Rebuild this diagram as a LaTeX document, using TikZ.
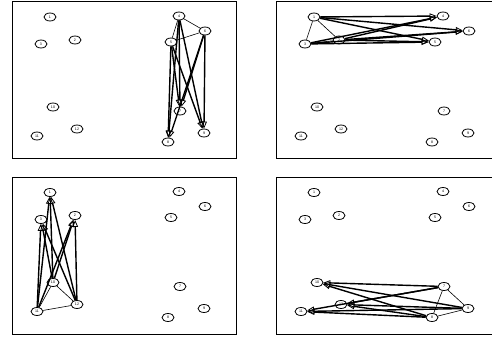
\documentclass[tikz,border=0pt]{standalone}
\usepackage{fontspec}
\setsansfont{Liberation Sans}
\usetikzlibrary{shapes.geometric,arrows.meta}
\tikzset{
  vtx/.style={ellipse,draw,fill=white,line width=0.8pt,minimum width=12pt,minimum height=8pt,inner sep=0pt,font=\sffamily\fontsize{3.6}{3.6}\selectfont},
  panelframe/.style={draw,line width=1pt},
  tie/.style={line width=0.6pt},
  flow/.style={line width=1.4pt,-{Triangle[open,length=7pt,width=5.5pt,line width=0.8pt]}},
}
\newcommand\placevertices[1]{%
  \draw[panelframe] (12,2) rectangle (236.5,158.5);
  \node[vtx] (#1n1) at (50,17) {1};
  \node[vtx] (#1n2) at (75,40) {2};
  \node[vtx] (#1n3) at (41,44) {3};
  \node[vtx] (#1n4) at (179,16) {4};
  \node[vtx] (#1n5) at (171,42) {5};
  \node[vtx] (#1n6) at (205,31) {6};
  \node[vtx] (#1n7) at (180,111) {7};
  \node[vtx] (#1n8) at (168,142) {8};
  \node[vtx] (#1n9) at (204,133) {9};
  \node[vtx] (#1n10) at (53,107) {10};
  \node[vtx] (#1n11) at (37,136) {11};
  \node[vtx] (#1n12) at (77,129) {12};
}
\begin{document}
\begin{tikzpicture}[x=1pt,y=-1pt]
\useasboundingbox (0,0) rectangle (492,337);
\fill[white] (0,0) rectangle (492,337);
\clip (0,0) rectangle (492,337);
% panel 1: cluster 4,5,6 -> 7,8,9
\begin{scope}
  \placevertices{a}
  \draw[tie] (an4) -- (an5);
  \draw[tie] (an4) -- (an6);
  \draw[tie] (an5) -- (an6);
  \foreach \s in {4,5,6}{\foreach \t in {7,8,9}{\draw[flow] (an\s) -- (an\t);}}
\end{scope}
% panel 2: cluster 1,2,3 -> 4,5,6
\begin{scope}[shift={(264,0)}]
  \placevertices{b}
  \draw[tie] (bn1) -- (bn2);
  \draw[tie] (bn1) -- (bn3);
  \draw[tie] (bn2) -- (bn3);
  \foreach \s in {1,2,3}{\foreach \t in {4,5,6}{\draw[flow] (bn\s) -- (bn\t);}}
\end{scope}
% panel 3: cluster 10,11,12 -> 1,2,3
\begin{scope}[shift={(0,175.5)}]
  \placevertices{c}
  \draw[tie] (cn10) -- (cn11);
  \draw[tie] (cn10) -- (cn12);
  \draw[tie] (cn11) -- (cn12);
  \foreach \s in {10,11,12}{\foreach \t in {1,2,3}{\draw[flow] (cn\s) -- (cn\t);}}
\end{scope}
% panel 4: cluster 7,8,9 -> 10,11,12
\begin{scope}[shift={(264,175.5)}]
  \placevertices{d}
  \draw[tie] (dn7) -- (dn8);
  \draw[tie] (dn7) -- (dn9);
  \draw[tie] (dn8) -- (dn9);
  \foreach \s in {7,8,9}{\foreach \t in {10,11,12}{\draw[flow] (dn\s) -- (dn\t);}}
\end{scope}
\end{tikzpicture}
\end{document}
